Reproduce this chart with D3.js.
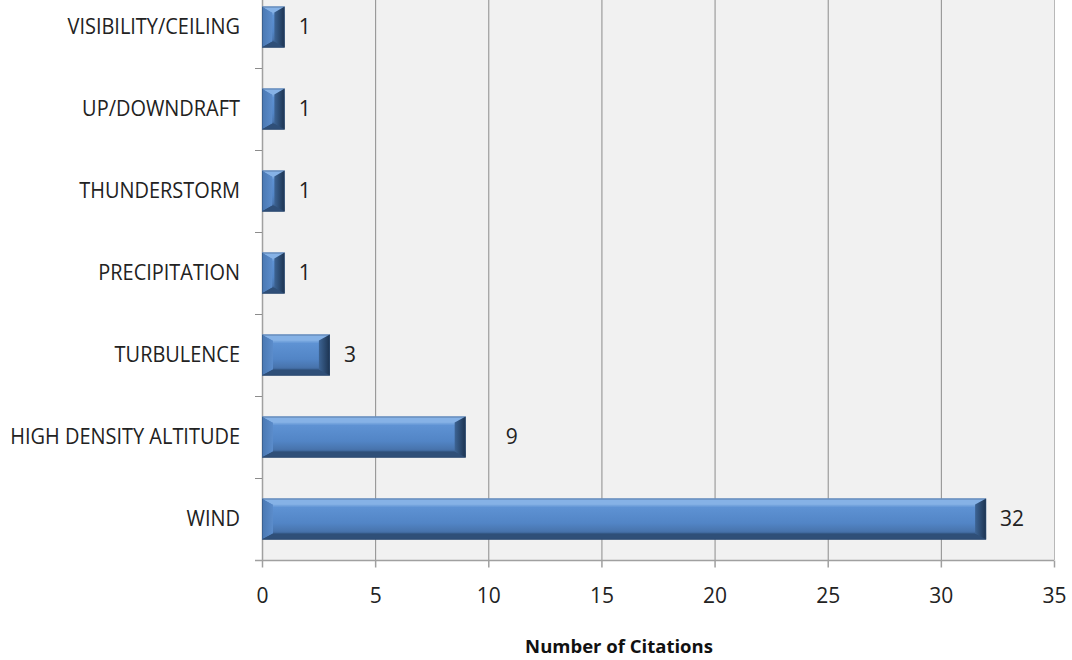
<!DOCTYPE html>
<html><head><meta charset="utf-8">
<script src="https://cdn.jsdelivr.net/npm/d3@7"></script>
<style>
html,body{margin:0;padding:0;background:#fff;}
svg{display:block;}
text{font-family:"Open Sans",sans-serif;}
</style></head>
<body>
<svg id="chart" width="1072" height="660"></svg>
<script>
const categories = ["WIND","HIGH DENSITY ALTITUDE","TURBULENCE","PRECIPITATION","THUNDERSTORM","UP/DOWNDRAFT","VISIBILITY/CEILING"];
const values = [32, 9, 3, 1, 1, 1, 1];
const xTicks = [0,5,10,15,20,25,30,35];
const axisTitle = "Number of Citations";

(function(){
const svg = d3.select("#chart");
const pL = 262, pR = 1054, pB = 560, pT = -14;
const FS = 21;

const x = d3.scaleLinear().domain([0,35]).range([pL,pR]);
const y = d3.scaleBand().domain(categories).range([pB, pT]).paddingInner(0.5).paddingOuter(0.25);

const defs = svg.append("defs");
const g1 = defs.append("linearGradient").attr("id","barV").attr("x1",0).attr("y1",0).attr("x2",0).attr("y2",1);
[["0%","#7fa9dc"],["12%","#8bb6e8"],["22%","#5e92d3"],["60%","#5285c6"],["80%","#4874ad"],["90%","#2f5280"],["100%","#2a4668"]]
  .forEach(([o,c])=>g1.append("stop").attr("offset",o).attr("stop-color",c));
const gR = defs.append("linearGradient").attr("id","barR").attr("x1",0).attr("y1",0).attr("x2",1).attr("y2",0);
[["0%","#3d6494"],["100%","#1c3350"]].forEach(([o,c])=>gR.append("stop").attr("offset",o).attr("stop-color",c));
const gL = defs.append("linearGradient").attr("id","barL").attr("x1",0).attr("y1",0).attr("x2",1).attr("y2",0);
[["0%","#4a78b2"],["100%","#5b8ccb"]].forEach(([o,c])=>gL.append("stop").attr("offset",o).attr("stop-color",c));

svg.append("rect").attr("x",pL).attr("y",pT).attr("width",pR-pL).attr("height",pB-pT).attr("fill","#f1f1f1");

svg.append("g").selectAll("line").data(xTicks.filter(d=>d>0)).join("line")
  .attr("x1",d=>x(d)+0.5).attr("x2",d=>x(d)+0.5).attr("y1",pT).attr("y2",pB)
  .attr("stroke",d=>d===35?"#b8b8b8":"#8c8c8c").attr("stroke-width",1);

svg.append("line").attr("x1",pL+0.5).attr("x2",pL+0.5).attr("y1",pT).attr("y2",pB).attr("stroke","#a0a0a0").attr("stroke-width",1.5);
const step = y.step();
svg.append("g").selectAll("line").data(d3.range(categories.length+1)).join("line")
  .attr("x1",pL-7).attr("x2",pL).attr("y1",i=>Math.round(pB - i*step)+0.5).attr("y2",i=>Math.round(pB - i*step)+0.5)
  .attr("stroke","#8c8c8c");

const xAxis = d3.axisBottom(x).tickValues(xTicks).tickSize(7).tickPadding(21);
const ax = svg.append("g").attr("transform",`translate(0,${pB+0.5})`).call(xAxis);
ax.select(".domain").remove();
ax.selectAll(".tick line").attr("stroke","#a0a0a0").attr("stroke-width",1.5);
ax.selectAll(".tick text").attr("font-size",FS).attr("fill","#222").style("font-family","'Open Sans',sans-serif");
svg.append("line").attr("x1",pL-7).attr("x2",pR).attr("y1",pB+0.5).attr("y2",pB+0.5).attr("stroke","#a0a0a0").attr("stroke-width",1.5);

svg.append("g").selectAll("text").data(categories).join("text")
  .attr("transform",d=>`translate(240,${y(d)+y.bandwidth()/2}) scale(0.95,1)`).attr("dy","0.35em")
  .attr("text-anchor","end").attr("font-size",FS).attr("fill","#222").text(d=>d);

const data = categories.map((c,i)=>({c, v: values[i]}));
const bars = svg.append("g").selectAll("g").data(data).join("g");
bars.each(function(d){
  const g = d3.select(this);
  const x0 = x(0), x1 = x(d.v), y0 = y(d.c), h = y.bandwidth(), y1 = y0+h;
  const bx = Math.min(11, (x1-x0)/2.2), by = 6;
  g.append("rect").attr("x",x0).attr("y",y0).attr("width",x1-x0).attr("height",h).attr("fill","url(#barV)");
  g.append("polygon").attr("points",`${x0},${y0} ${x0+bx},${y0+by} ${x0+bx},${y1-by} ${x0},${y1}`).attr("fill","url(#barL)");
  g.append("polygon").attr("points",`${x0},${y0} ${x1},${y0} ${x1-bx},${y0+by} ${x0+bx},${y0+by}`).attr("fill","#86b2e6");
  g.append("polygon").attr("points",`${x0},${y1} ${x0+bx},${y1-by} ${x1-bx},${y1-by} ${x1},${y1}`).attr("fill","#2f4f78");
  g.append("polygon").attr("points",`${x1},${y0} ${x1-bx},${y0+by} ${x1-bx},${y1-by} ${x1},${y1}`).attr("fill","url(#barR)");
  g.append("rect").attr("x",x0+0.5).attr("y",y0+0.5).attr("width",x1-x0-1).attr("height",h-1).attr("fill","none").attr("stroke","#2b4a70").attr("stroke-opacity",0.5);
});

const labelShift = {"HIGH DENSITY ALTITUDE": 26};
svg.append("g").selectAll("text").data(data).join("text")
  .attr("x",d=>x(d.v)+14+(labelShift[d.c]||0)).attr("y",d=>y(d.c)+y.bandwidth()/2).attr("dy","0.35em")
  .attr("font-size",FS).attr("fill","#222").text(d=>d.v);

svg.append("text").attr("x",619).attr("y",653).attr("text-anchor","middle")
  .attr("font-size",18.5).attr("font-weight","bold").attr("fill","#111").text(axisTitle);
})();
</script>
</body></html>
